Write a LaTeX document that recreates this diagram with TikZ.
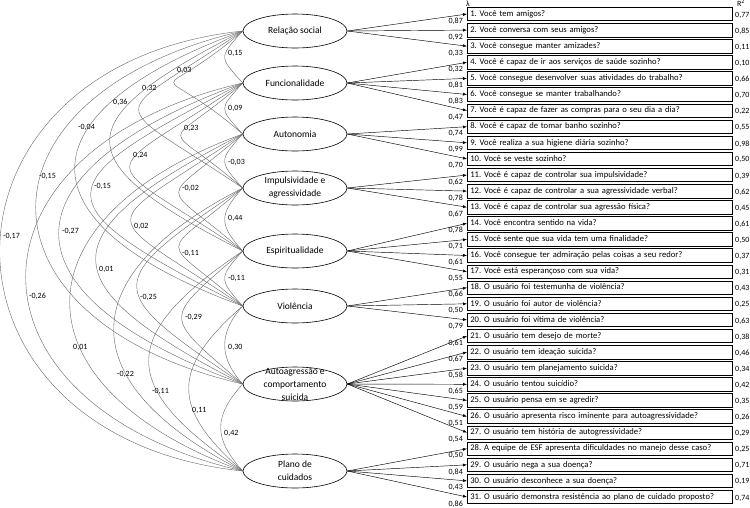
\documentclass[tikz,border=0pt]{standalone}
\usepackage{fontspec}
\setmainfont{Carlito}
\usetikzlibrary{shapes.geometric,arrows.meta}
\begin{document}
\frenchspacing
\begin{tikzpicture}[x=1pt,y=-1pt,
  font=\fontsize{8}{9.6}\selectfont,
  factor/.style={ellipse,draw,line width=0.6pt,minimum width=104pt,minimum height=34pt,inner sep=0pt},
  ftext/.style={align=center,inner sep=0pt,font=\fontsize{9.5}{13}\selectfont},
  item/.style={draw,line width=0.6pt,anchor=west,minimum height=13.5pt,text width=259pt,inner xsep=3pt,inner ysep=0pt,text height=6.5pt,text depth=2pt,align=left,font=\fontsize{8.6}{10}\selectfont},
  load/.style={-{Latex[length=4pt,width=3pt]},line width=0.45pt},
  cov/.style={draw=black!60,line width=0.4pt},
  num/.style={inner sep=0pt}]
\useasboundingbox (0,0) rectangle (750,507);
\node[factor,label={[ftext]center:Relação social}] (f1) at (295,31) {};
\node[factor,label={[ftext]center:Funcionalidade}] (f2) at (295,83) {};
\node[factor,label={[ftext]center:Autonomia}] (f3) at (295,134) {};
\node[factor,label={[ftext]center:{Impulsividade e\\agressividade}}] (f4) at (295,188) {};
\node[factor,label={[ftext]center:Espiritualidade}] (f5) at (295,251) {};
\node[factor,label={[ftext]center:Violência}] (f6) at (295,306) {};
\node[factor,label={[ftext]center:{Autoagressão e\\comportamento\\suicida}}] (f7) at (295,384) {};
\node[factor,label={[ftext]center:{Plano de\\cuidados}}] (f8) at (295,471) {};
\node[num] (lam) at (468,4) {λ};
\node[num] (rsq) at (741,3) {R\textsuperscript{2}};
\foreach \a/\b/\lab/\lx/\ly in {
1/2/{0,15}/228/53, 1/3/{0,03}/177/70, 1/4/{0,32}/142/88, 1/5/{0,36}/113/102, 1/6/{-0,04}/78/127, 1/7/{-0,15}/39/176, 1/8/{-0,17}/3/236,
2/3/{0,09}/228/108, 2/4/{0,23}/184/128, 2/5/{0,24}/133/155, 2/6/{-0,15}/94/186, 2/7/{-0,27}/62/231, 2/8/{-0,26}/29/296,
3/4/{-0,03}/228/162, 3/5/{-0,02}/182/188, 3/6/{0,02}/134/226, 3/7/{0,01}/99/269, 3/8/{0,01}/73/347,
4/5/{0,44}/228/218, 4/6/{-0,11}/182/253, 4/7/{-0,25}/140/297, 4/8/{-0,22}/117/374,
5/6/{-0,11}/228/278, 5/7/{-0,29}/185/317, 5/8/{-0,11}/152/391,
6/7/{0,30}/228/347, 6/8/{0,11}/192/410,
7/8/{0,42}/224/433} {
  \pgfmathsetmacro\k{(246-\lx)/0.75}
  \pgfmathsetmacro\dd{\k*tan(55-7*(\b-\a))}
  \draw[cov] (f\a.west) .. controls +(-\k,\dd) and +(-\k,-\dd) .. (f\b.west);
  \node[num,anchor=west] (c\a\b) at (\lx,\ly) {\lab};
}
\foreach \i/\f/\t/\l/\r in {
1/1/{Você tem amigos?}/{0,87}/{0,77},
2/1/{Você conversa com seus amigos?}/{0,92}/{0,85},
3/1/{Você consegue manter amizades?}/{0,33}/{0,11},
4/2/{Você é capaz de ir aos serviços de saúde sozinho?}/{0,32}/{0,10},
5/2/{Você consegue desenvolver suas atividades do trabalho?}/{0,81}/{0,66},
6/2/{Você consegue se manter trabalhando?}/{0,83}/{0,70},
7/2/{Você é capaz de fazer as compras para o seu dia a dia?}/{0,47}/{0,22},
8/3/{Você é capaz de tomar banho sozinho?}/{0,74}/{0,55},
9/3/{Você realiza a sua higiene diária sozinho?}/{0,99}/{0,98},
10/3/{Você se veste sozinho?}/{0,70}/{0,50},
11/4/{Você é capaz de controlar sua impulsividade?}/{0,62}/{0,39},
12/4/{Você é capaz de controlar a sua agressividade verbal?}/{0,78}/{0,62},
13/4/{Você é capaz de controlar sua agressão física?}/{0,67}/{0,45},
14/5/{Você encontra sentido na vida?}/{0,78}/{0,61},
15/5/{Você sente que sua vida tem uma finalidade?}/{0,71}/{0,50},
16/5/{Você consegue ter admiração pelas coisas a seu redor?}/{0,61}/{0,37},
17/5/{Você está esperançoso com sua vida?}/{0,55}/{0,31},
18/6/{O usuário foi testemunha de violência?}/{0,66}/{0,43},
19/6/{O usuário foi autor de violência?}/{0,50}/{0,25},
20/6/{O usuário foi vítima de violência?}/{0,79}/{0,63},
21/7/{O usuário tem desejo de morte?}/{0,61}/{0,38},
22/7/{O usuário tem ideação suicida?}/{0,67}/{0,46},
23/7/{O usuário tem planejamento suicida?}/{0,58}/{0,34},
24/7/{O usuário tentou suicídio?}/{0,65}/{0,42},
25/7/{O usuário pensa em se agredir?}/{0,59}/{0,35},
26/7/{O usuário apresenta risco iminente para autoagressividade?}/{0,51}/{0,26},
27/7/{O usuário tem história de autogressividade?}/{0,54}/{0,29},
28/8/{A equipe de ESF apresenta dificuldades no manejo desse caso?}/{0,50}/{0,25},
29/8/{O usuário nega a sua doença?}/{0,84}/{0,71},
30/8/{O usuário desconhece a sua doença?}/{0,43}/{0,19},
31/8/{O usuário demonstra resistência ao plano de cuidado proposto?}/{0,86}/{0,74}} {
  \pgfmathsetmacro\yy{14+16.1*(\i-1)}
  \node[item] (q\i) at (467,\yy) {\i. \t};
  \draw[load] (f\f.east) -- (q\i.west);
  \node[num,anchor=east] (l\i) at (463,\yy+7) {\l};
  \node[num,anchor=west] (r\i) at (735,\yy+1) {\r};
}
\end{tikzpicture}
\end{document}
